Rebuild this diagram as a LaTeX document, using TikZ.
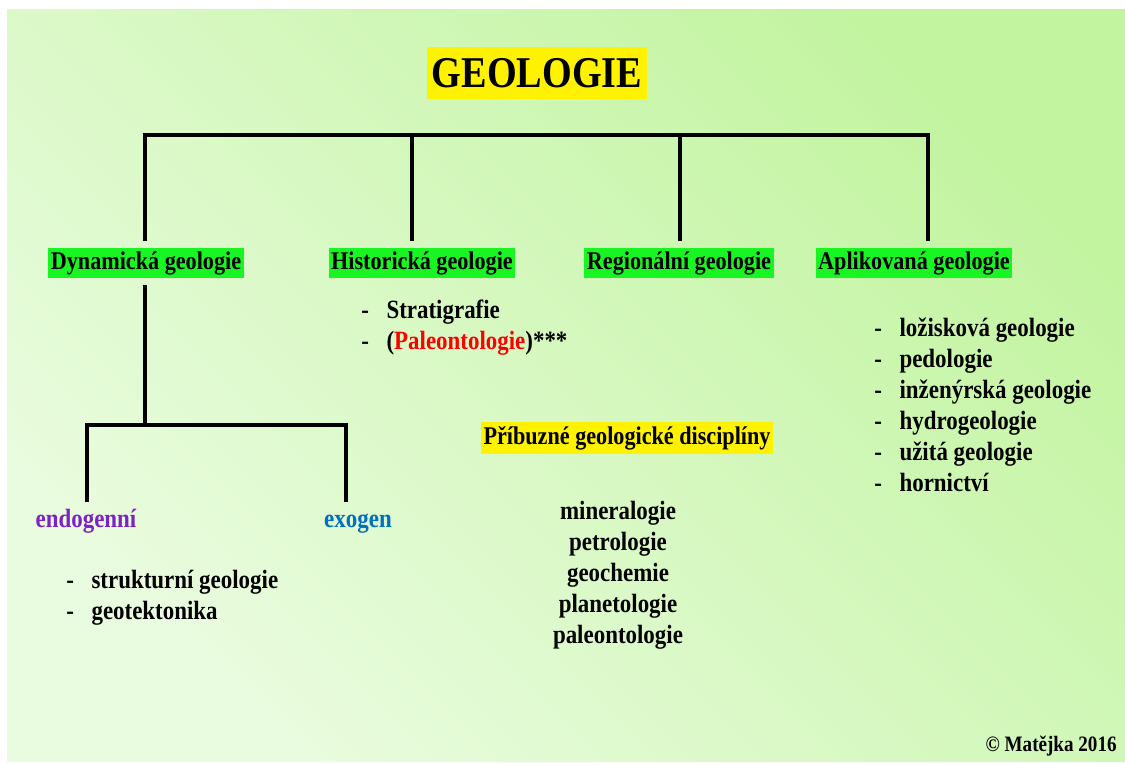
\documentclass[tikz,border=0pt]{standalone}
\usepackage{fontspec}
\setmainfont{Liberation Serif}[FakeStretch=0.87]
\usepackage{tikz}
\definecolor{bgpale}{RGB}{234,252,224}
\definecolor{bgdeep}{RGB}{194,244,160}
\definecolor{fieldgreen}{RGB}{25,245,35}
\definecolor{endocolor}{RGB}{125,35,195}
\definecolor{exocolor}{RGB}{0,112,192}
\tikzset{
    every node/.style={inner sep=0pt, font=\bfseries\fontsize{15}{17.6}\selectfont}
}
\tikzset{
    branch/.style={line width=1.8pt},
    headline/.style={fill=yellow, inner xsep=2.5pt, inner ysep=6.8pt,
        text height=16.5pt, text depth=0pt, font=\bfseries\fontsize{25}{30}\selectfont},
    field/.style={fill=fieldgreen, inner xsep=1.5pt, inner ysep=1.5pt,
        text height=10.5pt, text depth=3.2pt, font=\bfseries\fontsize{14.5}{16}\selectfont},
    related/.style={field, fill=yellow, inner ysep=2pt, text height=11pt},
    subfield/.style={text height=10.5pt, text depth=3.2pt},
    itemlist/.style={align=left},
    namelist/.style={align=center}
}
\newcommand{\dashitem}[1]{-\hspace{10pt}#1}

\begin{document}
\begin{tikzpicture}
  \fill [white] (0cm,0cm) rectangle (22.5cm,-15.28cm);
  \shade [top color=bgdeep, bottom color=bgpale, shading angle=-45]
    (0.14cm,-0.2cm) rectangle (22.5cm,-15.24cm);
  \node (geo) [headline] at (10.74cm,-1.46cm) {GEOLOGIE};
  \node (dyn) [field] at (2.92cm,-5.26cm) {Dynamická geologie};
  \node (hist) [field] at (8.44cm,-5.26cm) {Historická geologie};
  \node (reg) [field] at (13.58cm,-5.26cm) {Regionální geologie};
  \node (apl) [field] at (18.28cm,-5.26cm) {Aplikovaná geologie};
  \node (endo) [subfield, text=endocolor] at (1.72cm,-10.42cm) {endogenní};
  \node (exo) [subfield, text=exocolor] at (7.16cm,-10.42cm) {exogen};
  \node (dynlist) [itemlist, anchor=west] at (1.32cm,-11.95cm)
    {\dashitem{strukturní geologie}\\ \dashitem{geotektonika}};
  \node (histlist) [itemlist, anchor=west] at (7.22cm,-6.56cm)
    {\dashitem{Stratigrafie}\\ \dashitem{(\textcolor{red}{Paleontologie})***}};
  \node (apllist) [itemlist, anchor=west] at (17.48cm,-8.1cm)
    {\dashitem{ložisková geologie}\\ \dashitem{pedologie}\\
     \dashitem{inženýrská geologie}\\ \dashitem{hydrogeologie}\\
     \dashitem{užitá geologie}\\ \dashitem{hornictví}};
  \node (rel) [related] at (12.54cm,-8.76cm) {Příbuzné geologické disciplíny};
  \node (rellist) [namelist] at (12.36cm,-11.5cm)
    {mineralogie\\ petrologie\\ geochemie\\ planetologie\\ paleontologie};
  \node (copy) [anchor=east, font=\bfseries\fontsize{12.5}{14}\selectfont]
    at (22.34cm,-14.92cm) {© Matějka 2016};
  \coordinate (b1) at (2.9cm,-2.7cm); \coordinate (b2) at (8.24cm,-2.7cm);
  \coordinate (b3) at (13.6cm,-2.7cm); \coordinate (b4) at (18.56cm,-2.7cm);
  \coordinate (s0) at (2.9cm,-8.5cm);
  \coordinate (s1) at (1.74cm,-8.5cm); \coordinate (s2) at (6.92cm,-8.5cm);
  \draw [branch] ([yshift=4pt]b1 |- dyn.north) -- (b1) -- (b4)
    -- ([yshift=4pt]b4 |- apl.north);
  \draw [branch] (b2) -- ([yshift=4pt]b2 |- hist.north);
  \draw [branch] (b3) -- ([yshift=4pt]b3 |- reg.north);
  \draw [branch] ([yshift=-4pt]b1 |- dyn.south) -- (s0);
  \draw [branch] ([yshift=4pt]s1 |- endo.north) -- (s1) -- (s2)
    -- ([yshift=4pt]s2 |- exo.north);
\end{tikzpicture}
\end{document}
